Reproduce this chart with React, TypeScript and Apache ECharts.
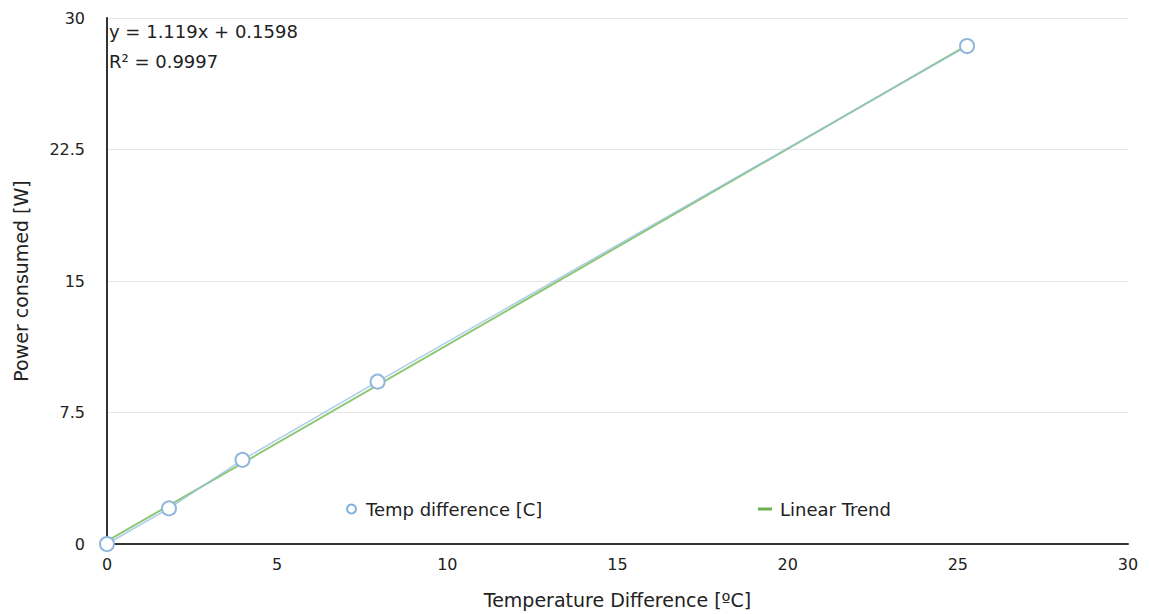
import React, { useEffect, useRef } from "react";
import * as echarts from "echarts";

const tempDiff = [0, 1.82, 3.98, 7.95, 25.27];
const power = [0, 2.03, 4.8, 9.26, 28.4];
const trendX = [0, 25.27];
const trendY = [0.1598, 28.44];
const xTicks = { min: 0, max: 30, interval: 5 };
const yTicks = { min: 0, max: 30, interval: 7.5 };
const equationLines = ["y = 1.119x + 0.1598", "R² = 0.9997"];
const seriesNames = ["Temp difference [C]", "Linear Trend"];

const FONT = "'DejaVu Sans', Verdana, sans-serif";

export default function App() {
  const ref = useRef<HTMLDivElement>(null);
  useEffect(() => {
    if (!ref.current) return;
    const chart = echarts.init(ref.current, null, { renderer: "svg" });
    chart.setOption({
      animation: false,
      backgroundColor: "#ffffff",
      textStyle: { fontFamily: FONT },
      grid: { left: 107, right: 21, top: 18, bottom: 69, containLabel: false },
      xAxis: {
        type: "value",
        min: xTicks.min,
        max: xTicks.max,
        interval: xTicks.interval,
        name: "Temperature Difference [ºC]",
        nameLocation: "middle",
        nameGap: 46,
        nameTextStyle: { fontSize: 19, color: "#222", fontFamily: FONT },
        axisLine: { lineStyle: { color: "#333", width: 2 } },
        axisTick: { show: false },
        axisLabel: { fontSize: 16, color: "#222", margin: 12, fontFamily: FONT },
        splitLine: { show: false },
      },
      yAxis: {
        type: "value",
        min: yTicks.min,
        max: yTicks.max,
        interval: yTicks.interval,
        name: "Power consumed [W]",
        nameLocation: "middle",
        nameGap: 77,
        nameTextStyle: { fontSize: 19, color: "#222", fontFamily: FONT },
        axisLine: { show: true, lineStyle: { color: "#333", width: 2 } },
        axisTick: { show: false },
        axisLabel: { fontSize: 16, color: "#222", margin: 22, fontFamily: FONT },
        splitLine: { lineStyle: { color: "#e6e6e6", width: 1 } },
      },
      legend: [
        {
          left: 341,
          top: 495,
          textStyle: { fontSize: 18, color: "#222", fontFamily: FONT, padding: [0, 0, 0, 5] },
          itemWidth: 9,
          itemHeight: 9,
          data: [
            {
              name: seriesNames[0],
              icon: "circle",
              itemStyle: { color: "#ffffff", borderColor: "#7fb0e0", borderWidth: 2 },
            },
          ],
        },
        {
          left: 753,
          top: 495,
          textStyle: { fontSize: 18, color: "#222", fontFamily: FONT, padding: [0, 0, 0, 3] },
          itemWidth: 14,
          itemHeight: 3,
          data: [
            {
              name: seriesNames[1],
              icon: "rect",
              itemStyle: { color: "#6ab04c" },
            },
          ],
        },
      ],
      series: [
        {
          name: seriesNames[1],
          type: "line",
          data: trendX.map((x, i) => [x, trendY[i]]),
          showSymbol: false,
          symbol: "none",
          lineStyle: { color: "#8cc873", width: 2 },
          itemStyle: { color: "#6ab04c" },
          z: 2,
        },
        {
          name: seriesNames[0],
          type: "line",
          data: tempDiff.map((x, i) => [x, power[i]]),
          symbol: "emptyCircle",
          symbolSize: 14,
          lineStyle: { color: "#98bfe3", width: 1.5, opacity: 0.8 },
          itemStyle: { color: "#8fb6dc", borderWidth: 1.5 },
          z: 3,
        },
      ],
      graphic: equationLines.map((t, i) => ({
        type: "text",
        left: 109,
        top: 22 + i * 30,
        style: { text: t, fontSize: 18, fill: "#222", fontFamily: FONT },
      })),
    });
    return () => chart.dispose();
  }, []);
  return (
    <div
      ref={ref}
      style={{ position: "fixed", left: 0, top: 0, width: 1149, height: 614 }}
    />
  );
}
